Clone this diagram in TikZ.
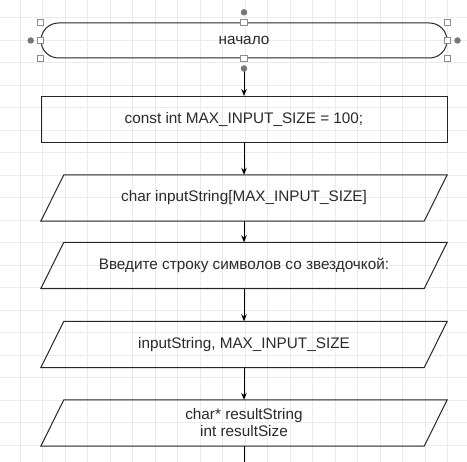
\documentclass[tikz,border=0pt]{standalone}
\usepackage{fontspec}
\setmainfont{Liberation Sans}
\usetikzlibrary{arrows.meta,calc}
\definecolor{gridc}{HTML}{EBEBEB}
\definecolor{handlec}{HTML}{8C8C8C}
\definecolor{textc}{HTML}{2A2A2A}
\tikzset{
  gridline/.style={draw=gridc, line width=0.8},
  shapebox/.style={minimum width=406pt, inner sep=0pt, text=textc, font=\fontsize{15.3}{17}\selectfont, align=center},
  termbox/.style={shapebox, draw=black!85, line width=1pt, minimum height=35pt, rounded corners=17.5pt},
  procbox/.style={shapebox, draw=black!85, line width=1pt, minimum height=46pt},
  iobox/.style={shapebox, minimum height=46pt},
  ioline/.style={draw=black!85, line width=1pt, line join=miter},
  conn/.style={draw=black, line width=1pt, -{Stealth[length=7pt,width=5.5pt]}},
  connplain/.style={draw=black, line width=1pt},
  handle/.style={draw=handlec, fill=white, line width=1.4pt, minimum size=6.5pt, inner sep=0pt, shape=rectangle},
  hdot/.style={fill=handlec!85!black, circle, minimum size=6.5pt, inner sep=0pt}
}
\begin{document}
\begin{tikzpicture}[x=1pt,y=-1pt]
\useasboundingbox (0,0) rectangle (467,462);
\fill[white] (0,0) rectangle (467,462);
\foreach \i in {0,...,19} \draw[gridline] (20+22.5*\i,0) -- (20+22.5*\i,462);
\foreach \j in {0,...,19} \draw[gridline] (0,17.5+22.5*\j) -- (467,17.5+22.5*\j);

% nodes
\node[termbox] (start) at (244,40.5) {начало};
\node[procbox] (const) at (244,119.5) {const int MAX\_INPUT\_SIZE = 100;};
\node[iobox] (p1) at (244,198) {char inputString[MAX\_INPUT\_SIZE]};
\node[iobox] (p2) at (244,265.5) {Введите строку символов со звездочкой:};
\node[iobox] (p3) at (244,344.5) {inputString, MAX\_INPUT\_SIZE};
\node[iobox] (p4) at (244,423) {char* resultString\\int resultSize};

\foreach \p in {p1,p2,p3,p4}
  \draw[ioline] (\p.south west) -- ($(\p.north west)+(23,0)$) -- (\p.north east) -- ($(\p.south east)+(-23,0)$) -- cycle;

% connectors
\coordinate (s0) at (244,71.5);
\coordinate (endpt) at (244,462);
\draw[conn] (s0) -- (const.north);
\draw[conn] (const.south) -- (p1.north);
\draw[conn] (p1.south) -- (p2.north);
\draw[conn] (p2.south) -- (p3.north);
\draw[conn] (p3.south) -- (p4.north);
\draw[connplain] (p4.south) -- (endpt);

% selection handles
\foreach \a in {north west,north,north east,west,east,south west,south,south east}
  \node[handle] at (start.\a) {};
\node[hdot] (d1) at (244,12.3) {};
\node[hdot] (d2) at (30.7,40.5) {};
\node[hdot] (d3) at (457.5,40.5) {};
\node[hdot] (d4) at (244,68.5) {};
\end{tikzpicture}
\end{document}
